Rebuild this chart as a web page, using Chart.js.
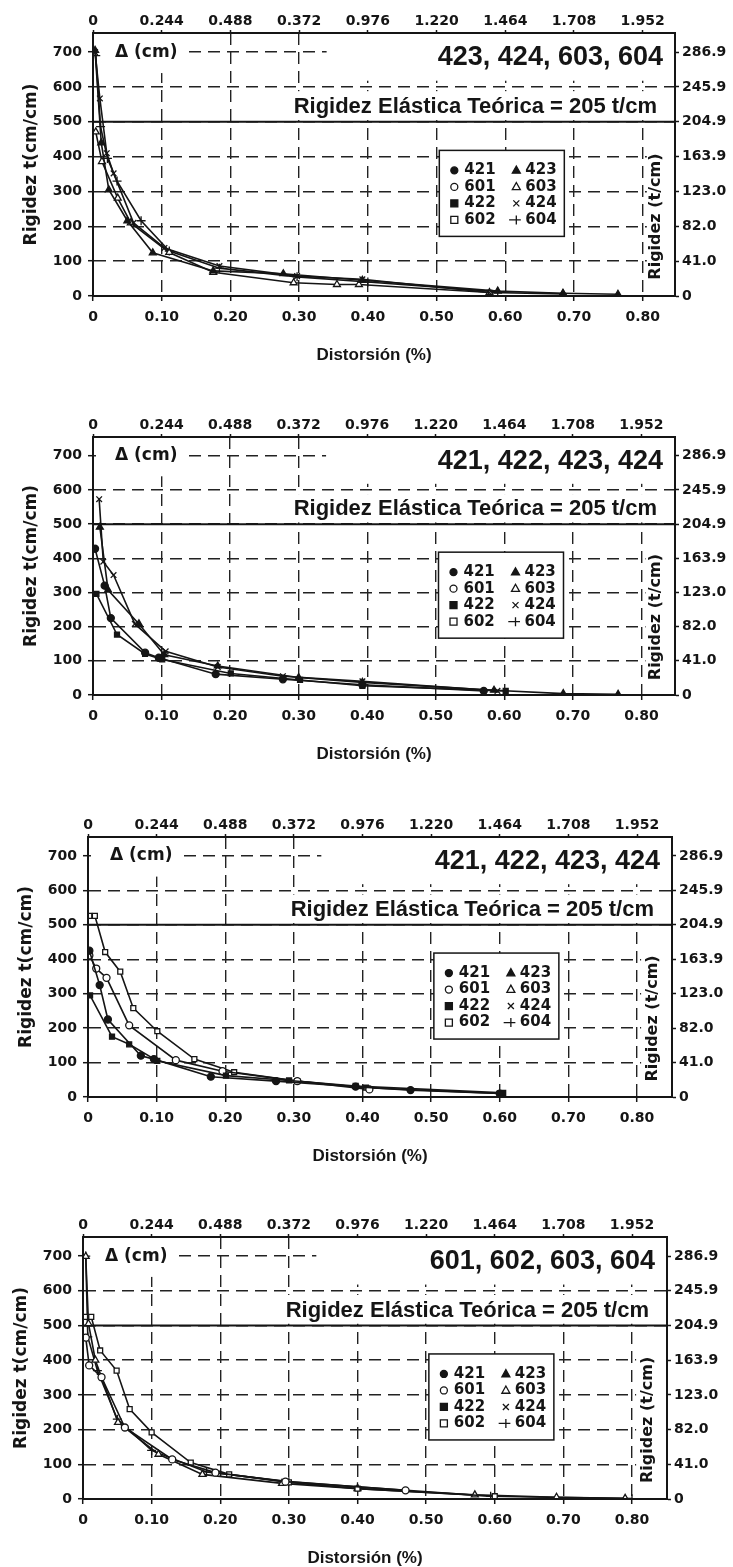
<!DOCTYPE html>
<html>
<head>
<meta charset="utf-8">
<script src="https://cdn.jsdelivr.net/npm/chart.js@4.4.0/dist/chart.umd.min.js"></script>
<style>
  html, body { margin: 0; padding: 0; background: #fff; }
  body { width: 733px; height: 1567px; position: relative; overflow: hidden; }
  .panel { position: absolute; left: 0; width: 733px; }
</style>
</head>
<body>
<div class="panel" style="top:0;height:392px"><canvas id="chart1"></canvas></div>
<div class="panel" style="top:400px;height:392px"><canvas id="chart2"></canvas></div>
<div class="panel" style="top:800px;height:392px"><canvas id="chart3"></canvas></div>
<div class="panel" style="top:1200px;height:367px"><canvas id="chart4"></canvas></div>
<script>
// --- 1. Data ---
const bottomTickLabels = ['0', '0.10', '0.20', '0.30', '0.40', '0.50', '0.60', '0.70', '0.80'];
const topTickLabels = ['0', '0.244', '0.488', '0.372', '0.976', '1.220', '1.464', '1.708', '1.952'];
const leftTickLabels = ['0', '100', '200', '300', '400', '500', '600', '700'];
const rightTickLabels = ['0', '41.0', '82.0', '123.0', '163.9', '204.9', '245.9', '286.9'];
const theoreticalStiffness = 500; // "205 t/cm" line, left scale units
const chartTitles = ['423, 424, 603, 604', '421, 422, 423, 424', '421, 422, 423, 424', '601, 602, 603, 604'];
const legendCol1 = ['421', '601', '422', '602'];
const legendCol2 = ['423', '603', '424', '604'];

// chart 1
const c1_423 = [[0.003, 705], [0.012, 440], [0.023, 305], [0.050, 216], [0.087, 124], [0.175, 72], [0.277, 64], [0.392, 45], [0.589, 14], [0.684, 8], [0.764, 5]];
const c1_603 = [[0.004, 471], [0.013, 386], [0.036, 281], [0.055, 210], [0.111, 125], [0.175, 68], [0.292, 38], [0.355, 33], [0.387, 33], [0.577, 10], [0.684, 6]];
const c1_424 = [[0.003, 700], [0.010, 567], [0.020, 410], [0.030, 352], [0.059, 210], [0.104, 138], [0.184, 86], [0.297, 57], [0.392, 48], [0.577, 10]];
const c1_604 = [[0.004, 690], [0.011, 486], [0.021, 395], [0.035, 330], [0.070, 216], [0.111, 129], [0.184, 80], [0.297, 55], [0.400, 40], [0.589, 12]];
// chart 2
const c2_421 = [[0.003, 428], [0.017, 320], [0.026, 225], [0.076, 124], [0.096, 109], [0.179, 61], [0.277, 46], [0.393, 30], [0.570, 12]];
const c2_422 = [[0.005, 296], [0.035, 177], [0.076, 120], [0.101, 104], [0.201, 63], [0.302, 44], [0.393, 27], [0.602, 12]];
const c2_423 = [[0.010, 491], [0.022, 307], [0.067, 208], [0.104, 118], [0.182, 85], [0.300, 51], [0.393, 37], [0.585, 14], [0.686, 4], [0.766, 2]];
const c2_424 = [[0.009, 573], [0.015, 390], [0.030, 351], [0.061, 208], [0.106, 128], [0.182, 82], [0.277, 55], [0.393, 40], [0.590, 12]];
// chart 3
const c3_421 = [[0.002, 425], [0.017, 325], [0.029, 225], [0.077, 120], [0.096, 110], [0.179, 59], [0.274, 46], [0.390, 30], [0.470, 20], [0.600, 10]];
const c3_601 = [[0.002, 411], [0.012, 373], [0.027, 346], [0.060, 208], [0.128, 107], [0.196, 75], [0.305, 46], [0.410, 22]];
const c3_422 = [[0.003, 295], [0.035, 175], [0.060, 153], [0.101, 105], [0.201, 62], [0.293, 48], [0.390, 32], [0.605, 12]];
const c3_602 = [[0.002, 526], [0.010, 526], [0.025, 421], [0.047, 364], [0.066, 258], [0.101, 191], [0.155, 110], [0.213, 72], [0.305, 46], [0.405, 27], [0.600, 10]];
// chart 4
const c4_601 = [[0.004, 465], [0.009, 385], [0.027, 351], [0.061, 206], [0.130, 114], [0.193, 76], [0.295, 50], [0.470, 25]];
const c4_602 = [[0.003, 525], [0.012, 525], [0.025, 428], [0.049, 370], [0.068, 259], [0.100, 192], [0.157, 105], [0.213, 71], [0.300, 48], [0.400, 30], [0.600, 8]];
const c4_603 = [[0.004, 699], [0.008, 505], [0.018, 400], [0.051, 221], [0.110, 129], [0.174, 71], [0.290, 45], [0.400, 30], [0.571, 12], [0.690, 5], [0.790, 2]];
const c4_604 = [[0.004, 700], [0.007, 467], [0.021, 370], [0.050, 230], [0.100, 140], [0.180, 78], [0.300, 50], [0.400, 35], [0.594, 8], [0.800, 1]];

const chartSeries = [
  { '423': c1_423, '603': c1_603, '424': c1_424, '604': c1_604 },
  { '421': c2_421, '422': c2_422, '423': c2_423, '424': c2_424 },
  { '421': c3_421, '601': c3_601, '422': c3_422, '602': c3_602 },
  { '601': c4_601, '602': c4_602, '603': c4_603, '604': c4_604 }
];

// --- 2. Styles & layout ---
const INK = '#151515';
const markerStyles = {
  '421': { style: 'circle', filled: true, r: 3.5 },
  '601': { style: 'circle', filled: false, r: 3.5 },
  '422': { style: 'rect', filled: true, r: 3.5 },
  '602': { style: 'rect', filled: false, r: 3.5 },
  '423': { style: 'triangle', filled: true, r: 4 },
  '603': { style: 'triangle', filled: false, r: 4 },
  '424': { style: 'crossRot', filled: false, r: 4 },
  '604': { style: 'cross', filled: false, r: 4.5 }
};

// pixel frame of each panel (relative to its own canvas)
const frames = [
  { height: 392, left: 93, right: 675, top: 33, bottom: 296, xMax: 0.847 },
  { height: 392, left: 93, right: 675, top: 37, bottom: 295, xMax: 0.849 },
  { height: 392, left: 88, right: 672, top: 37, bottom: 297, xMax: 0.851 },
  { height: 367, left: 83, right: 667, top: 37, bottom: 299, xMax: 0.851 }
];
const Y_MAX = 755;
const tickFont = { family: 'DejaVu Sans', weight: 'bold', size: 14 };

function drawMarker(ctx, name, x, y) {
  const m = markerStyles[name];
  const r = m.r;
  ctx.save();
  ctx.lineWidth = 1.3;
  ctx.strokeStyle = INK;
  ctx.fillStyle = m.filled ? INK : '#fff';
  ctx.beginPath();
  if (m.style === 'circle') {
    ctx.arc(x, y, r, 0, Math.PI * 2);
    ctx.fill(); ctx.stroke();
  } else if (m.style === 'rect') {
    ctx.rect(x - r, y - r, r * 2, r * 2);
    ctx.fill(); ctx.stroke();
  } else if (m.style === 'triangle') {
    ctx.moveTo(x, y - r * 1.1);
    ctx.lineTo(x + r, y + r * 0.7);
    ctx.lineTo(x - r, y + r * 0.7);
    ctx.closePath();
    ctx.fill(); ctx.stroke();
  } else if (m.style === 'crossRot') {
    ctx.moveTo(x - r * 0.75, y - r * 0.75); ctx.lineTo(x + r * 0.75, y + r * 0.75);
    ctx.moveTo(x + r * 0.75, y - r * 0.75); ctx.lineTo(x - r * 0.75, y + r * 0.75);
    ctx.stroke();
  } else {
    ctx.moveTo(x - r * 1.6, y); ctx.lineTo(x + r, y);
    ctx.moveTo(x, y - r); ctx.lineTo(x, y + r);
    ctx.stroke();
  }
  ctx.restore();
}

// --- 3. Overlay: masks, reference line, labels, legend ---
function overlayPlugin(idx) {
  return {
    id: 'overlay' + idx,
    beforeDatasetsDraw(chart) {
      const ctx = chart.ctx;
      const a = chart.chartArea;
      const xs = chart.scales.x;
      const ys = chart.scales.y;
      ctx.save();

      // white boxes that hide the grid behind the texts
      ctx.fillStyle = '#fff';
      ctx.fillRect(a.left + 3, a.top + 1, 92, ys.getPixelForValue(640) - a.top - 1);
      ctx.fillRect(xs.getPixelForValue(0.34), a.top + 1, a.right - xs.getPixelForValue(0.34) - 1, ys.getPixelForValue(618) - a.top - 1);
      ctx.fillRect(xs.getPixelForValue(0.285), ys.getPixelForValue(588), a.right - xs.getPixelForValue(0.285) - 1, ys.getPixelForValue(505) - ys.getPixelForValue(588));
      ctx.fillRect(xs.getPixelForValue(0.806), ys.getPixelForValue(495), a.right - xs.getPixelForValue(0.806) - 1, a.bottom - ys.getPixelForValue(495) - 1);

      // theoretical elastic stiffness line
      const yRef = ys.getPixelForValue(theoreticalStiffness);
      ctx.strokeStyle = INK;
      ctx.lineWidth = 2;
      ctx.beginPath();
      ctx.moveTo(a.left, yRef);
      ctx.lineTo(a.right, yRef);
      ctx.stroke();

      ctx.fillStyle = INK;
      ctx.textBaseline = 'middle';

      ctx.font = 'bold 17px "DejaVu Sans"';
      ctx.textAlign = 'left';
      ctx.fillText('\u0394 (cm)', a.left + 22, ys.getPixelForValue(700));

      ctx.font = 'bold 27px "Liberation Sans"';
      ctx.textAlign = 'right';
      ctx.fillText(chartTitles[idx], a.right - 12, a.top + 25);

      ctx.font = 'bold 22px "Liberation Sans"';
      ctx.fillText('Rigidez El\u00e1stica Te\u00f3rica = 205 t/cm', a.right - 18, yRef - 15);

      // right axis title sits inside the plot
      ctx.save();
      ctx.translate(a.right - 19, ys.getPixelForValue(228));
      ctx.rotate(-Math.PI / 2);
      ctx.textAlign = 'center';
      ctx.font = 'bold 16px "DejaVu Sans"';
      ctx.fillText('Rigidez (t/cm)', 0, 0);
      ctx.restore();

      // legend box
      const lx = xs.getPixelForValue(0.504);
      const ly = ys.getPixelForValue(418);
      ctx.fillStyle = '#fff';
      ctx.fillRect(lx, ly, 125, 86);
      ctx.strokeStyle = INK;
      ctx.lineWidth = 1.5;
      ctx.strokeRect(lx, ly, 125, 86);
      ctx.font = 'bold 15px "DejaVu Sans"';
      ctx.textAlign = 'left';
      for (let i = 0; i < 4; i++) {
        const ry = ly + 20 + i * 16.5;
        drawMarker(ctx, legendCol1[i], lx + 15, ry);
        ctx.fillStyle = INK;
        ctx.fillText(legendCol1[i], lx + 25, ry);
        drawMarker(ctx, legendCol2[i], lx + 77, ry);
        ctx.fillStyle = INK;
        ctx.fillText(legendCol2[i], lx + 86, ry);
      }
      ctx.restore();
    },
    afterDraw(chart) {
      const ctx = chart.ctx;
      const a = chart.chartArea;
      ctx.save();
      ctx.strokeStyle = INK;
      ctx.lineWidth = 2;
      ctx.strokeRect(a.left, a.top, a.right - a.left, a.bottom - a.top);

      ctx.fillStyle = INK;
      ctx.textAlign = 'center';
      ctx.textBaseline = 'middle';
      ctx.font = 'bold 17px "Liberation Sans"';
      ctx.fillText('Distorsi\u00f3n (%)', (a.left + a.right) / 2 - 10, a.bottom + 59);

      ctx.font = 'bold 17px "DejaVu Sans"';
      ctx.translate(a.left - 61, (a.top + a.bottom) / 2);
      ctx.rotate(-Math.PI / 2);
      ctx.fillText('Rigidez t(cm/cm)', 0, 0);
      ctx.restore();
    }
  };
}

// --- 4. Build the four panels ---
function makeChart(idx) {
  const f = frames[idx];
  const series = chartSeries[idx];
  const datasets = Object.keys(series).map(name => {
    const m = markerStyles[name];
    return {
      label: name,
      data: series[name].map(p => ({ x: p[0], y: p[1] })),
      showLine: true,
      tension: 0,
      borderColor: INK,
      borderWidth: 1.6,
      pointStyle: m.style,
      pointRadius: m.r,
      pointBorderWidth: 1.3,
      pointBorderColor: INK,
      pointBackgroundColor: m.filled ? INK : '#fff'
    };
  });

  const dashedGrid = {
    color: '#222', lineWidth: 1.4,
    tickLength: 5, tickBorderDash: [], tickColor: INK, tickWidth: 1.5
  };
  const tickOnly = { drawOnChartArea: false, tickLength: 4, tickColor: INK, tickWidth: 1.5 };
  const border = { display: true, color: INK, width: 2 };
  const dashedBorder = { display: true, color: INK, width: 2, dash: [12, 7] };

  new Chart(document.getElementById('chart' + (idx + 1)), {
    type: 'scatter',
    data: { datasets },
    options: {
      responsive: true,
      maintainAspectRatio: false,
      animation: false,
      layout: { padding: 0 },
      plugins: { legend: { display: false }, tooltip: { enabled: false } },
      scales: {
        x: {
          type: 'linear', position: 'bottom', min: 0, max: f.xMax,
          grid: dashedGrid, border: dashedBorder,
          ticks: { stepSize: 0.1, includeBounds: false, maxRotation: 0, autoSkip: false, padding: 8,
                   font: tickFont, color: INK, callback: (v, i) => bottomTickLabels[i] },
          afterFit: s => { s.height = f.height - f.bottom; }
        },
        xTop: {
          type: 'linear', position: 'top', min: 0, max: f.xMax,
          grid: Object.assign({}, tickOnly, { tickLength: 3 }), border,
          ticks: { stepSize: 0.1, includeBounds: false, maxRotation: 0, autoSkip: false, padding: 0,
                   font: tickFont, color: INK, callback: (v, i) => topTickLabels[i] },
          afterFit: s => { s.height = f.top; }
        },
        y: {
          type: 'linear', position: 'left', min: 0, max: Y_MAX,
          grid: dashedGrid, border: dashedBorder,
          ticks: { stepSize: 100, includeBounds: false, padding: 6, autoSkip: false,
                   font: tickFont, color: INK, callback: (v, i) => leftTickLabels[i] },
          afterFit: s => { s.width = f.left; }
        },
        yRight: {
          type: 'linear', position: 'right', min: 0, max: Y_MAX,
          grid: tickOnly, border,
          ticks: { stepSize: 100, includeBounds: false, padding: 3, autoSkip: false,
                   font: tickFont, color: INK, callback: (v, i) => rightTickLabels[i] },
          afterFit: s => { s.width = 733 - f.right; }
        }
      }
    },
    plugins: [overlayPlugin(idx)]
  });
}

document.addEventListener('DOMContentLoaded', function () {
  for (let i = 0; i < chartSeries.length; i++) makeChart(i);
});
</script>
</body>
</html>
